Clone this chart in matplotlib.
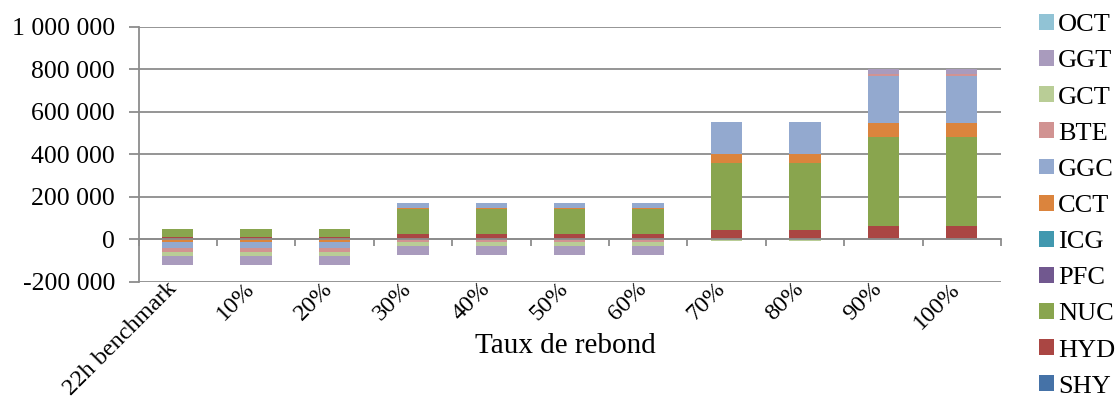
import matplotlib
matplotlib.use("Agg")
import matplotlib.pyplot as plt
from matplotlib.patches import Patch
from matplotlib.ticker import FuncFormatter, FixedLocator
from matplotlib.transforms import ScaledTranslation
import numpy as np

plt.rcParams['font.family'] = ['Liberation Serif', 'DejaVu Serif']

categories = ['22h benchmark', '10%', '20%', '30%', '40%', '50%', '60%',
              '70%', '80%', '90%', '100%']

series_names = ['SHY', 'HYD', 'NUC', 'PFC', 'ICG', 'CCT', 'GGC', 'BTE',
                'GCT', 'GGT', 'OCT']

SHY = [0, 0, 0, 0, 0, 0, 0, 0, 0, 0, 0]
HYD = [12000, 12000, 12000, 25000, 25000, 25000, 25000, 47000, 47000, 63000, 63000]
NUC = [36000, 36000, 36000, 120000, 120000, 120000, 120000, 311000, 311000, 419000, 419000]
PFC = [0, 0, 0, 0, 0, 0, 0, 0, 0, 0, 0]
ICG = [0, 0, 0, 0, 0, 0, 0, 0, 0, 0, 0]
CCT = [-12000, -12000, -12000, 5000, 5000, 5000, 5000, 44000, 44000, 66000, 66000]
GGC = [-28000, -28000, -28000, 22000, 22000, 22000, 22000, 151000, 151000, 221000, 221000]
BTE = [-19000, -19000, -19000, -14000, -14000, -14000, -14000, 0, 0, 8000, 8000]
GCT = [-20000, -20000, -20000, -17000, -17000, -17000, -17000, -8000, -8000, 0, 0]
GGT = [-42000, -42000, -42000, -41000, -41000, -41000, -41000, 0, 0, 24000, 24000]
OCT = [0, 0, 0, 0, 0, 0, 0, 0, 0, 0, 0]

series_values = [SHY, HYD, NUC, PFC, ICG, CCT, GGC, BTE, GCT, GGT, OCT]
colors = ['#4572A7', '#AA4643', '#89A54E', '#71588F', '#4198AF', '#DB843D',
          '#93A9CF', '#D19392', '#B9CD96', '#A99BBD', '#91C3D5']

W, H = 1119, 398
fig = plt.figure(figsize=(W / 100, H / 100), dpi=100)
ax = fig.add_axes([138.5 / W, 1 - 282 / H, (1001 - 138.5) / W, (282 - 27) / H])

x = np.arange(len(categories))
pos_base = np.zeros(len(categories))
neg_base = np.zeros(len(categories))
for name, vals, col in zip(series_names, series_values, colors):
    v = np.array(vals, dtype=float)
    bottoms = np.where(v >= 0, pos_base, neg_base)
    ax.bar(x, v, width=0.4, bottom=bottoms, color=col, edgecolor='none',
           zorder=3)
    pos_base += np.where(v >= 0, v, 0)
    neg_base += np.where(v < 0, v, 0)

grid_col = '#8c8c8c'
ax.set_xlim(-0.5, len(categories) - 0.5)
ax.set_ylim(-200000, 1000000)
ax.set_yticks(np.arange(-200000, 1000001, 200000))
ax.yaxis.set_major_formatter(FuncFormatter(lambda v, p: f"{int(v):,}".replace(',', ' ')))
ax.yaxis.grid(True, color=grid_col, linewidth=1.3, zorder=0)
ax.set_axisbelow(True)

for s in ['top', 'right']:
    ax.spines[s].set_visible(False)
ax.spines['left'].set_color(grid_col)
ax.spines['left'].set_linewidth(1.3)
ax.spines['bottom'].set_position(('data', 0))
ax.spines['bottom'].set_color(grid_col)
ax.spines['bottom'].set_linewidth(1.3)
ax.spines['bottom'].set_zorder(4)

ax.tick_params(axis='y', direction='out', length=7, width=1.3, color=grid_col,
               labelsize=18.5, pad=10)
ax.set_xticks(x)
ax.set_xticklabels(categories, rotation=45, ha='right', va='top',
                   rotation_mode='anchor')
ax.tick_params(axis='x', which='major', length=0, labelsize=17.5, pad=28)
ax.xaxis.set_minor_locator(FixedLocator(np.arange(-0.5, len(categories), 1.0)))
ax.tick_params(axis='x', which='minor', direction='out', length=5, width=1.3,
               color=grid_col)
shift = ScaledTranslation(-12 / 100, 0, fig.dpi_scale_trans)
for lbl in ax.get_xticklabels():
    lbl.set_transform(lbl.get_transform() + shift)

fig.text(565 / W, 1 - 346 / H, 'Taux de rebond', ha='center', va='center',
         fontsize=21)

handles = [Patch(facecolor=c, edgecolor='none') for c in colors][::-1]
labels = series_names[::-1]
fig.legend(handles, labels, loc='upper left', bbox_to_anchor=(1039 / W, 1 - 14 / H),
           frameon=False, fontsize=19, handlelength=0.55, handleheight=0.55,
           handletextpad=0.18, labelspacing=0.525, borderpad=0, borderaxespad=0)

fig.savefig('out.png', dpi=100)
